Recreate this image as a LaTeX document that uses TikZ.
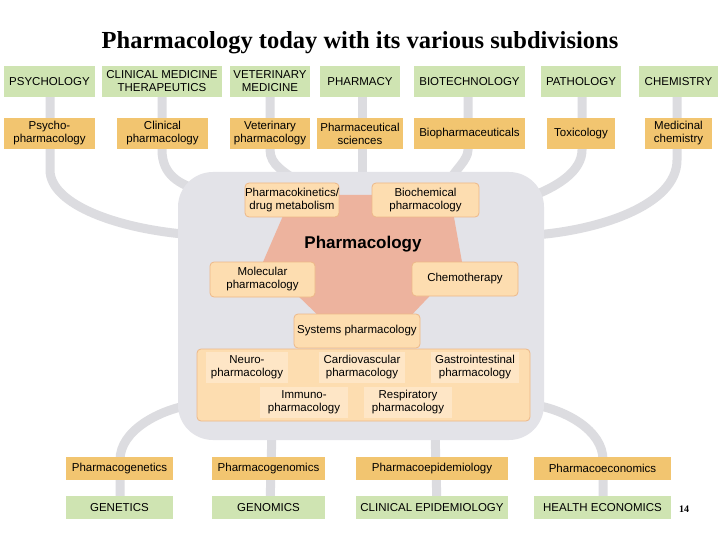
\documentclass[tikz,border=0pt]{standalone}
\usepackage{fontspec}
\setmainfont{Liberation Sans}
\newfontfamily\titlefont{Liberation Serif}
\begin{document}
\begin{tikzpicture}[x=1pt,y=-1pt,
  box/.style={inner sep=0pt,align=center,font=\fontsize{11.5}{13}\selectfont},
  lnk/.style={draw=linkgray,line width=9pt},
]
\definecolor{linkgray}{HTML}{DCDCE0}
\definecolor{boxgray}{HTML}{E3E3E8}
\definecolor{gfill}{HTML}{CFE4B2}
\definecolor{ofill}{HTML}{F2C570}
\definecolor{pink}{HTML}{EDB39E}
\definecolor{peach}{HTML}{FDDDB0}
\definecolor{peachl}{HTML}{FEE6C6}
\definecolor{peachb}{HTML}{EDB888}
\tikzset{
  G/.style={box,fill=gfill},
  O/.style={box,fill=ofill},
  P/.style={box,fill=peach,draw=peachb,line width=0.8pt,rounded corners=4pt},
  L/.style={box,fill=peachl},
}
\useasboundingbox (0,0) rectangle (720,540);
\fill[white] (0,0) rectangle (720,540);
\node[font=\titlefont\bfseries\fontsize{24.5}{28}\selectfont] (title) at (360,43) {Pharmacology today with its various subdivisions};
% gray links (drawn first)
\path[lnk] (50,97) -- (50,170) .. controls (50,205) and (120,230) .. (195,235);
\path[lnk] (162,97) -- (162,150) .. controls (162,175) and (180,185) .. (200,190);
\path[lnk] (270,97) -- (270,150) .. controls (270,165) and (285,172) .. (295,180);
\path[lnk] (362,97) -- (362,180);
\path[lnk] (468,97) -- (468,150) .. controls (468,160) and (455,170) .. (450,180);
\path[lnk] (582,97) -- (582,150) .. controls (582,170) and (560,185) .. (535,195);
\path[lnk] (677,97) -- (677,160) .. controls (677,205) and (600,230) .. (535,235);
\path[lnk] (120,507) -- (120,460) .. controls (120,430) and (160,410) .. (190,405);
\path[lnk] (270,507) -- (272,430);
\path[lnk] (437,507) -- (435,430);
\path[lnk] (603,507) -- (603,460) .. controls (603,430) and (565,410) .. (535,405);
% gray container
\fill[boxgray,rounded corners=35pt] (178,172) rectangle (544,440);
\fill[pink] (292,195) -- (450,195) -- (462,262) -- (405,322) -- (325,322) -- (263,262) -- cycle;
\node[font=\bfseries\fontsize{17}{19}\selectfont] (ph) at (363,244) {Pharmacology};
% top green
\node[G,minimum width=91pt,minimum height=31pt] (psy) at (49.5,81.5) {PSYCHOLOGY};
\node[G,minimum width=120pt,minimum height=31pt] (cli) at (162,81.5) {CLINICAL MEDICINE\\THERAPEUTICS};
\node[G,minimum width=80pt,minimum height=31pt] (vet) at (270,81.5) {VETERINARY\\MEDICINE};
\node[G,minimum width=80pt,minimum height=31pt] (pha) at (360,81.5) {PHARMACY};
\node[G,minimum width=111pt,minimum height=31pt] (bio) at (469.5,81.5) {BIOTECHNOLOGY};
\node[G,minimum width=80pt,minimum height=31pt] (pat) at (581,81.5) {PATHOLOGY};
\node[G,minimum width=79pt,minimum height=31pt] (che) at (678.5,81.5) {CHEMISTRY};
% orange row
\node[O,minimum width=91pt,minimum height=31pt] (o1) at (49.5,133.5) {Psycho-\\pharmacology};
\node[O,minimum width=91pt,minimum height=31pt] (o2) at (162.5,133.5) {Clinical\\pharmacology};
\node[O,minimum width=80pt,minimum height=31pt] (o3) at (270,133.5) {Veterinary\\pharmacology};
\node[O,minimum width=86pt,minimum height=31pt] (o4) at (360,133.5) {Pharmaceutical\\sciences};
\node[O,minimum width=111pt,minimum height=31pt] (o5) at (469.5,133.5) {Biopharmaceuticals};
\node[O,minimum width=68pt,minimum height=31pt] (o6) at (581,133.5) {Toxicology};
\node[O,minimum width=67pt,minimum height=31pt] (o7) at (678.5,133.5) {Medicinal\\chemistry};
% inner
\node[P,minimum width=92pt,minimum height=34pt] (pk) at (292,200) {Pharmacokinetics/\\drug metabolism};
\node[P,minimum width=107pt,minimum height=34pt] (bc) at (425.5,200) {Biochemical\\pharmacology};
\node[P,minimum width=105pt,minimum height=35pt] (mo) at (262.5,279.5) {Molecular\\pharmacology};
\node[P,minimum width=106pt,minimum height=34pt] (ct) at (465,279) {Chemotherapy};
\node[P,minimum width=126pt,minimum height=34pt] (sy) at (357,331) {Systems pharmacology};
\node[P,minimum width=333pt,minimum height=72pt] (sys) at (363.5,385) {};
\node[L,minimum width=82pt,minimum height=31pt] (ne) at (247,367) {Neuro-\\pharmacology};
\node[L,minimum width=86pt,minimum height=31pt] (cv) at (362,367) {Cardiovascular\\pharmacology};
\node[L,minimum width=88pt,minimum height=31pt] (gi) at (475,367) {Gastrointestinal\\pharmacology};
\node[L,minimum width=88pt,minimum height=31pt] (im) at (304,402) {Immuno-\\pharmacology};
\node[L,minimum width=88pt,minimum height=31pt] (re) at (408,402) {Respiratory\\pharmacology};
% bottom
\node[O,minimum width=107pt,minimum height=23pt] (b1) at (119.5,468.5) {Pharmacogenetics};
\node[O,minimum width=113pt,minimum height=23pt] (b2) at (268.5,468.5) {Pharmacogenomics};
\node[O,minimum width=152pt,minimum height=23pt] (b3) at (432,468.5) {Pharmacoepidemiology};
\node[O,minimum width=137pt,minimum height=23pt] (b4) at (602.5,468.5) {Pharmacoeconomics};
\node[G,minimum width=107pt,minimum height=23pt] (g1) at (119.5,507.5) {GENETICS};
\node[G,minimum width=113pt,minimum height=23pt] (g2) at (268.5,507.5) {GENOMICS};
\node[G,minimum width=152pt,minimum height=23pt] (g3) at (432,507.5) {CLINICAL EPIDEMIOLOGY};
\node[G,minimum width=137pt,minimum height=23pt] (g4) at (602.5,507.5) {HEALTH ECONOMICS};
\node[font=\titlefont\bfseries\fontsize{10}{12}\selectfont] (pg) at (684,509) {14};
\end{tikzpicture}
\end{document}
